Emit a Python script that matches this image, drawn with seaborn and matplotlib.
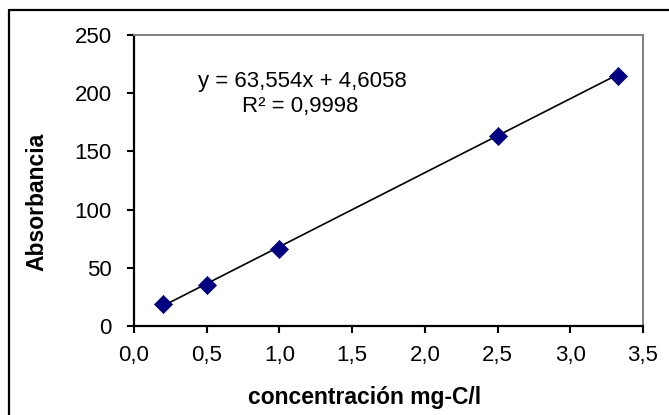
import matplotlib
matplotlib.use("Agg")
import matplotlib.pyplot as plt
from matplotlib.lines import Line2D
import seaborn as sns
import numpy as np
import pandas as pd

# Data
concentracion = [0.2, 0.5, 1.0, 2.5, 3.33]
absorbancia = [18.5, 35.0, 66.0, 163.0, 215.0]
slope = 63.554
intercept = 4.6058
r2_text = "0,9998"
x_ticks = [0.0, 0.5, 1.0, 1.5, 2.0, 2.5, 3.0, 3.5]
y_ticks = [0, 50, 100, 150, 200, 250]

sns.set_theme(style="white")
plt.rcParams['font.family'] = ['Liberation Sans', 'DejaVu Sans']

fig = plt.figure(figsize=(6.69, 4.15), dpi=100)
ax = fig.add_axes([134/669, 1-326/415, (643-134)/669, (326-35)/415])

df = pd.DataFrame({"x": concentracion, "y": absorbancia})
xfit = np.array([min(concentracion), max(concentracion)])
fit = pd.DataFrame({"x": xfit, "y": slope * xfit + intercept})

sns.lineplot(data=fit, x="x", y="y", ax=ax, color="black", linewidth=1.2, zorder=2)
sns.scatterplot(data=df, x="x", y="y", ax=ax, marker="D", s=85, color="#000080",
                edgecolor="#000080", linewidth=0.5, zorder=3)

ax.set_xlim(0, 3.5)
ax.set_ylim(0, 250)
ax.set_xticks(x_ticks)
ax.set_yticks(y_ticks)
ax.set_xticklabels([f"{v:.1f}".replace(".", ",") for v in x_ticks])
ax.set_yticklabels([str(v) for v in y_ticks])
ax.tick_params(axis="both", which="major", direction="out", length=5, width=1.5,
               color="black", labelsize=16, labelcolor="black",
               bottom=True, left=True)
ax.tick_params(axis="x", pad=9)
ax.tick_params(axis="y", pad=11)

for side in ["left", "bottom"]:
    ax.spines[side].set_color("black")
    ax.spines[side].set_linewidth(1.6)
for side in ["top", "right"]:
    ax.spines[side].set_color("#808080")
    ax.spines[side].set_linewidth(1.4)
ax.grid(False)

ax.set_xlabel("concentración mg-C/l", fontsize=16.5, fontweight="bold", color="black")
ax.set_ylabel("Absorbancia", fontsize=16.5, fontweight="bold", color="black")
ax.xaxis.set_label_coords((365-134)/509, (326-397)/291)
ax.xaxis.label.set_va("center")
ax.yaxis.set_label_coords((37-134)/509, (326-202)/291)
ax.yaxis.label.set_va("center")

eq = f"y = {slope:.3f}x + {intercept:.4f}".replace(".", ",")
ax.text((302-134)/509, (326-81)/291, eq, transform=ax.transAxes,
        ha="center", va="center", fontsize=16, color="black")
ax.text((300-134)/509, (326-106)/291, "R² = " + r2_text, transform=ax.transAxes,
        ha="center", va="center", fontsize=16, color="black")

# outer chart border (left & top visible)
bx = 9/669
by = 1 - 10.5/415
fig.add_artist(Line2D([bx, bx], [-0.02, by], transform=fig.transFigure, color="black", lw=1.6))
fig.add_artist(Line2D([bx, 1.02], [by, by], transform=fig.transFigure, color="black", lw=1.6))

fig.savefig("out.png", dpi=100)
